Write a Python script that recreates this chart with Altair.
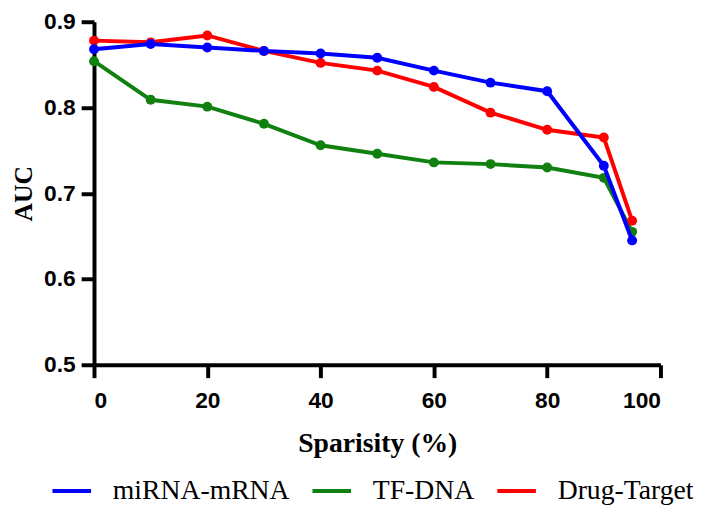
import altair as alt
import pandas as pd

sparsity = [0, 10, 20, 30, 40, 50, 60, 70, 80, 90, 95]
mirna_mrna = [0.868, 0.874, 0.870, 0.866, 0.863, 0.858, 0.843, 0.829, 0.819, 0.732, 0.645]
tf_dna = [0.854, 0.809, 0.801, 0.781, 0.756, 0.746, 0.736, 0.734, 0.730, 0.718, 0.655]
drug_target = [0.878, 0.876, 0.884, 0.866, 0.852, 0.843, 0.824, 0.794, 0.774, 0.765, 0.668]

series_names = ["miRNA-mRNA", "TF-DNA", "Drug-Target"]
series_colors = ["#0000ff", "#108010", "#ff0000"]
draw_order = ["TF-DNA", "Drug-Target", "miRNA-mRNA"]

rows = []
for name, vals in zip(series_names, [mirna_mrna, tf_dna, drug_target]):
    for x, y in zip(sparsity, vals):
        rows.append({"Sparsity": x, "AUC": y, "Series": name})
df = pd.DataFrame(rows)

x_enc = alt.X("Sparsity:Q",
              scale=alt.Scale(domain=[0, 100], nice=False),
              axis=alt.Axis(values=[0, 20, 40, 60, 80, 100], title="Sparisity (%)",
                            titleY=80, titleBaseline="middle"))
y_enc = alt.Y("AUC:Q",
              scale=alt.Scale(domain=[0.5, 0.9], nice=False, zero=False),
              axis=alt.Axis(values=[0.5, 0.6, 0.7, 0.8, 0.9], format=".1f", title="AUC",
                            titleX=-63, titleBaseline="alphabetic", titleFontSize=26))
legend = alt.Legend(orient="none", legendX=-44, legendY=453, direction="horizontal",
                    title=None, symbolType="stroke", symbolSize=1521,
                    symbolStrokeWidth=4, labelFont="Liberation Serif", labelFontSize=28,
                    labelColor="black", labelOffset=20, columnPadding=15, padding=0,
                    labelLimit=400)
color_enc = alt.Color("Series:N",
                      scale=alt.Scale(domain=series_names, range=series_colors),
                      legend=legend)

layers = []
for name in draw_order:
    base = alt.Chart(df).transform_filter(alt.datum.Series == name)
    layers.append(base.mark_line(strokeWidth=4).encode(x=x_enc, y=y_enc, color=color_enc))
    layers.append(base.mark_point(filled=True, size=100, opacity=1).encode(x=x_enc, y=y_enc, color=color_enc))

chart = alt.layer(*layers).properties(
    width=573, height=347,
    autosize=alt.AutoSizeParams(type="none"),
    padding={"left": 87, "top": 11, "right": 40, "bottom": 144},
).configure_view(stroke=None).configure_axis(
    grid=False,
    domainColor="black", domainWidth=4,
    tickColor="black", tickWidth=4, tickSize=13,
    labelFont="Liberation Sans", labelFontWeight="bold", labelFontSize=23, labelColor="black",
    titleFont="Liberation Serif", titleFontWeight="bold", titleFontSize=28, titleColor="black",
).configure_axisY(labelPadding=6).configure_axisX(labelPadding=12)

chart.save("out.html", embed_options={"renderer": "svg", "actions": False})
